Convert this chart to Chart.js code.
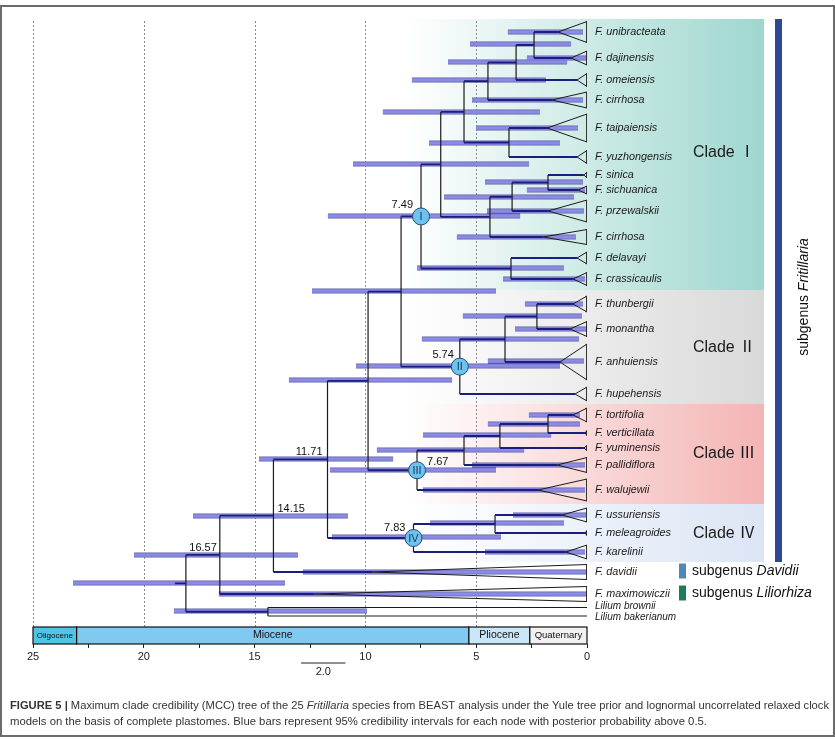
<!DOCTYPE html>
<html>
<head>
<meta charset="utf-8">
<script src="https://cdn.jsdelivr.net/npm/chart.js@4.4.1/dist/chart.umd.min.js"></script>
<style>
html, body { margin: 0; padding: 0; background: #fff; }
canvas { display: block; }
</style>
</head>
<body>
<canvas id="cvTree" width="835" height="739"></canvas>
<script>
const FONT = '"Liberation Sans", Arial, "Noto Sans CJK SC", sans-serif';

// tips, top to bottom (row = vertical position in tree rows, ages in Ma)
const tipNames = ["F. unibracteata", "F. dajinensis", "F. omeiensis", "F. cirrhosa", "F. taipaiensis", "F. yuzhongensis",
    "F. sinica", "F. sichuanica", "F. przewalskii", "F. cirrhosa", "F. delavayi", "F. crassicaulis",
    "F. thunbergii", "F. monantha", "F. anhuiensis", "F. hupehensis",
    "F. tortifolia", "F. verticillata", "F. yuminensis", "F. pallidiflora", "F. walujewii",
    "F. ussuriensis", "F. meleagroides", "F. karelinii",
    "F. davidii", "F. maximowiczii", "Lilium brownii", "Lilium bakerianum"];
const tipRows = [1.4, 4.0, 6.2, 8.2, 11.0, 13.9, 15.7, 17.2, 19.3, 21.9, 24.0, 26.1,
    28.6, 31.1, 34.4, 37.6, 39.7, 41.5, 43.0, 44.7, 47.2, 49.7, 51.5, 53.4, 55.4, 57.6, 58.95, 59.8];
const tipLabelRows = [1.4, 4.0, 6.2, 8.2, 11.0, 13.9, 15.7, 17.2, 19.3, 21.9, 24.0, 26.1,
    28.6, 31.1, 34.4, 37.6, 39.7, 41.5, 43.0, 44.7, 47.2, 49.7, 51.5, 53.4, 55.4, 57.6, 58.8, 59.95];
const tipCrownAges = [1.31, 0.72, 0.45, 1.58, 1.8, 0.45, 0.14, 0.4, 1.76, 1.99, 0.45, 0.63,
    0.63, 0.77, 1.22, 0.54, 0.63, 0.09, 0.14, 1.35, 2.21, 1.13, 0.09, 0.95, 9.7, 12.3, 0, 0];
const tipSpread = [1.05, 0.7, 0.65, 0.8, 1.4, 0.65, 0.3, 0.4, 1.1, 0.75, 0.6, 0.65,
    0.8, 0.75, 1.8, 0.7, 0.7, 0.25, 0.25, 0.75, 1.1, 0.7, 0.25, 0.7, 0.75, 0.75, 0, 0];

// internal nodes (children listed before parents)
const nodeNames = ["n1", "n2", "n3", "n4", "n5", "n6", "n7", "n8", "n9", "n10", "I",
    "n11", "n12", "II", "n13", "n14", "n15", "n16", "III", "n17", "n18", "IV",
    "n19", "n20", "n21", "lil", "root"];
const nodeAges = [2.39, 3.2, 4.47, 3.52, 5.55, 1.76, 3.38, 4.38, 6.6, 3.43, 7.49,
    2.26, 3.7, 5.74, 8.39, 1.76, 3.93, 5.55, 7.67, 9.88, 4.15, 7.83,
    11.71, 14.15, 16.57, 14.4, 18.1];
const nodeKids = [["t0", "t1"], ["n1", "t2"], ["n2", "t3"], ["t4", "t5"], ["n3", "n4"], ["t6", "t7"], ["n6", "t8"],
    ["n7", "t9"], ["n5", "n8"], ["t10", "t11"], ["n9", "n10"],
    ["t12", "t13"], ["n11", "t14"], ["n12", "t15"], ["I", "II"], ["t16", "t17"], ["n14", "t18"], ["n15", "t19"],
    ["n16", "t20"], ["n13", "III"], ["t21", "t22"], ["n18", "t23"],
    ["n17", "IV"], ["n19", "t24"], ["n20", "t25"], ["t26", "t27"], ["n21", "lil"]];
const rootStubAge = 18.6;
const circledNodes = ["I", "II", "III", "IV"];
const datedNodes = ["I", "II", "III", "IV", "n19", "n20", "n21"];

// 95% HPD bars
const hpdRows = [1.4, 2.6, 4.0, 4.4, 6.2, 8.2, 9.4, 11.0, 12.5, 14.6, 16.4, 17.2, 17.9, 19.3, 19.8, 21.9, 25.0, 26.1, 27.3,
    28.6, 29.8, 31.1, 32.1, 34.3, 34.8, 36.2,
    39.7, 40.6, 41.7, 43.2, 44.1, 44.7, 45.2, 47.2,
    49.7, 50.5, 51.9, 53.4, 49.8, 53.7, 55.4, 56.5, 57.6, 59.3];
const hpdOld = [3.57, 5.28, 2.71, 6.27, 7.9, 5.19, 9.21, 5.01, 7.13, 10.56, 4.6, 2.71, 6.45, 4.51, 11.69, 5.87, 7.67, 3.79, 12.41,
    2.8, 5.6, 3.25, 7.45, 4.47, 10.42, 13.45,
    2.62, 4.47, 7.4, 9.48, 14.8, 5.19, 11.6, 7.4,
    3.34, 7.08, 11.51, 4.6, 17.78, 20.44, 12.82, 23.19, 16.61, 18.64];
const hpdYoung = [0.18, 0.72, 0, 0.9, 1.85, 0.18, 2.12, 0.41, 1.22, 2.62, 0.18, 0.09, 0.59, 0.14, 3.02, 0.5, 1.04, 0.09, 4.11,
    0.18, 0.23, 0, 0.36, 0.14, 1.22, 6.09,
    0.32, 0.32, 1.62, 2.84, 8.75, 0.09, 4.11, 0.09,
    0.05, 1.04, 3.88, 0.09, 10.79, 13.04, 0, 13.63, 0, 9.93];

// clades
const cladeNames = ["Clade \u2160", "Clade \u2161", "Clade \u2162", "Clade \u2163"];
const cladeTop = [0.1, 27.2, 38.6, 48.6];
const cladeBottom = [27.2, 38.6, 48.6, 54.4];
const cladeLabelRows = [13.5, 33.0, 43.6, 51.6];
const cladeColors = ["#9ed7ce", "#d9d9d9", "#f4b4b4", "#dbe5f4"];
const cladePanelAge = 8.2;

// geological time scale
const epochNames = ["Oligocene", "Miocene", "Pliocene", "Quaternary"];
const epochStart = [25, 23.03, 5.33, 2.58];
const epochEnd = [23.03, 5.33, 2.58, 0];
const epochColors = ["#4cc5e6", "#80c9f0", "#c9e7f8", "#f1f1f1"];
const epochFontSizes = [8, 10.5, 10.5, 9.5];
const gridAges = [25, 20, 15, 10, 5];
const scaleBarAges = [12.9, 10.9];

// ---- tree layout ----
const rowOf = {};
const ageOf = {};
tipNames.forEach((n, i) => { rowOf["t" + i] = tipRows[i]; ageOf["t" + i] = tipCrownAges[i]; });
nodeNames.forEach((n, i) => {
    const kids = nodeKids[i];
    rowOf[n] = (rowOf[kids[0]] + rowOf[kids[kids.length - 1]]) / 2;
    ageOf[n] = nodeAges[i];
});

const gap = { x: null, y: null };
const hBranches = [], vBranches = [], thinBranches = [], triangles = [], hpdPts = [];
nodeNames.forEach((n, i) => {
    const kids = nodeKids[i];
    vBranches.push({ x: nodeAges[i], y: rowOf[kids[0]] }, { x: nodeAges[i], y: rowOf[kids[kids.length - 1]] }, gap);
    kids.forEach(k => {
        const isThinTip = k[0] === "t" && tipSpread[+k.slice(1)] === 0;
        const target = isThinTip ? thinBranches : hBranches;
        target.push({ x: nodeAges[i], y: rowOf[k] }, { x: ageOf[k], y: rowOf[k] }, gap);
    });
});
hBranches.push({ x: rootStubAge, y: rowOf.root }, { x: ageOf.root, y: rowOf.root }, gap);
tipNames.forEach((n, i) => {
    if (tipSpread[i] === 0) return;
    triangles.push({ x: tipCrownAges[i], y: tipRows[i] }, { x: 0, y: tipRows[i] - tipSpread[i] },
        { x: 0, y: tipRows[i] + tipSpread[i] }, { x: tipCrownAges[i], y: tipRows[i] }, gap);
});
hpdRows.forEach((r, i) => { hpdPts.push({ x: hpdOld[i], y: r }, { x: hpdYoung[i], y: r }, gap); });
const circlePts = circledNodes.map(n => ({ x: ageOf[n], y: rowOf[n] }));

const segSet = (data, color, width, order) => ({
    data: data, showLine: true, pointRadius: 0, borderColor: color, borderWidth: width,
    spanGaps: false, order: order, borderCapStyle: "butt", borderJoinStyle: "miter", fill: false
});

// ---- drawing helpers ----
const backgroundPlugin = {
    id: "cladeBackground",
    beforeDatasetsDraw(chart) {
        const { ctx, chartArea: a, scales: { x, y } } = chart;
        ctx.save();
        cladeNames.forEach((n, i) => {
            const x0 = x.getPixelForValue(cladePanelAge), x1 = a.right + 177;
            const y0 = y.getPixelForValue(cladeTop[i]), y1 = y.getPixelForValue(cladeBottom[i]);
            const g = ctx.createLinearGradient(x0, 0, x1, 0);
            g.addColorStop(0, "#ffffff");
            g.addColorStop(1, cladeColors[i]);
            ctx.fillStyle = g;
            ctx.fillRect(x0, y0, x1 - x0, y1 - y0);
        });
        ctx.strokeStyle = "#8a8a8a";
        ctx.lineWidth = 1;
        ctx.setLineDash([2, 2]);
        gridAges.forEach(v => {
            const px = Math.round(x.getPixelForValue(v)) + 0.5;
            ctx.beginPath();
            ctx.moveTo(px, y.getPixelForValue(0.3));
            ctx.lineTo(px, y.getPixelForValue(60.9));
            ctx.stroke();
        });
        ctx.restore();
    }
};

const drawCaption = (ctx) => {
    const line1 = [["bold", "FIGURE 5 | "], ["normal", "Maximum clade credibility (MCC) tree of the 25 "], ["italic", "Fritillaria"],
        ["normal", " species from BEAST analysis under the Yule tree prior and lognormal uncorrelated relaxed clock"]];
    const line2 = [["normal", "models on the basis of complete plastomes. Blue bars represent 95% credibility intervals for each node with posterior probability above 0.5."]];
    const setF = (st) => { ctx.font = (st === "bold" ? "bold " : st === "italic" ? "italic " : "") + "11.5px " + FONT; };
    const widthOf = (segs) => segs.reduce((s, sg) => { setF(sg[0]); return s + ctx.measureText(sg[1]).width; }, 0);
    [[line1, 709, 819], [line2, 725, 697]].forEach(([segs, yy, target]) => {
        const sx = target / widthOf(segs);
        ctx.save();
        ctx.translate(10, yy);
        ctx.scale(sx, 1);
        let cx = 0;
        segs.forEach(sg => {
            setF(sg[0]);
            ctx.fillStyle = "#333";
            ctx.textBaseline = "alphabetic";
            ctx.textAlign = "left";
            ctx.fillText(sg[1], cx, 0);
            cx += ctx.measureText(sg[1]).width;
        });
        ctx.restore();
    });
};

const overlayPlugin = {
    id: "treeOverlay",
    afterDatasetsDraw(chart) {
        const { ctx, chartArea: a, scales: { x, y } } = chart;
        ctx.save();
        // time scale bar
        const tTop = y.getPixelForValue(60.9), tBot = a.bottom;
        epochNames.forEach((n, i) => {
            const x0 = x.getPixelForValue(epochStart[i]), x1 = x.getPixelForValue(epochEnd[i]);
            ctx.fillStyle = epochColors[i];
            ctx.fillRect(x0, tTop, x1 - x0, tBot - tTop);
            ctx.strokeStyle = "#111";
            ctx.lineWidth = 1.2;
            ctx.strokeRect(x0, tTop, x1 - x0, tBot - tTop);
            ctx.fillStyle = "#111";
            ctx.font = epochFontSizes[i] + "px " + FONT;
            ctx.textAlign = "center";
            ctx.textBaseline = "middle";
            ctx.fillText(n, (x0 + x1) / 2, (tTop + tBot) / 2);
        });
        // scale bar
        ctx.strokeStyle = "#222";
        ctx.lineWidth = 1.2;
        ctx.beginPath();
        ctx.moveTo(x.getPixelForValue(scaleBarAges[0]), a.bottom + 19);
        ctx.lineTo(x.getPixelForValue(scaleBarAges[1]), a.bottom + 19);
        ctx.stroke();
        ctx.fillStyle = "#222";
        ctx.font = "11px " + FONT;
        ctx.textAlign = "center";
        ctx.textBaseline = "middle";
        ctx.fillText((scaleBarAges[0] - scaleBarAges[1]).toFixed(1),
            x.getPixelForValue((scaleBarAges[0] + scaleBarAges[1]) / 2), a.bottom + 28);

        // circle labels
        ctx.font = "11px " + FONT;
        ctx.fillStyle = "#1c3658";
        circledNodes.forEach(n => {
            ctx.fillText(n, x.getPixelForValue(ageOf[n]), y.getPixelForValue(rowOf[n]) + 0.5);
        });
        // node ages
        const ageLabelOffsets = { I: [-8, -11, "right"], II: [-6, -12, "right"], III: [10, -8, "left"], IV: [-8, -10, "right"],
            n19: [-5, -7, "right"], n20: [4, -7, "left"], n21: [-3, -7, "right"] };
        ctx.font = "11px " + FONT;
        ctx.fillStyle = "#111";
        datedNodes.forEach(n => {
            const o = ageLabelOffsets[n];
            ctx.textAlign = o[2];
            ctx.fillText(ageOf[n].toFixed(2), x.getPixelForValue(ageOf[n]) + o[0], y.getPixelForValue(rowOf[n]) + o[1]);
        });
        // tip labels
        ctx.textAlign = "left";
        ctx.fillStyle = "#1a1a1a";
        tipNames.forEach((n, i) => {
            ctx.font = (tipSpread[i] === 0 ? "italic 10px " : "italic 10.8px ") + FONT;
            ctx.fillText(n, a.right + 8, y.getPixelForValue(tipLabelRows[i]));
        });
        // clade labels
        ctx.font = "16px " + FONT;
        ctx.textAlign = "center";
        cladeNames.forEach((n, i) => {
            ctx.fillText(n, a.right + 137, y.getPixelForValue(cladeLabelRows[i]));
        });
        // subgenus Fritillaria
        ctx.fillStyle = "#2f4896";
        const yb0 = y.getPixelForValue(cladeTop[0]), yb1 = y.getPixelForValue(cladeBottom[3]);
        ctx.fillRect(a.right + 188, yb0, 7, yb1 - yb0);
        ctx.save();
        ctx.translate(a.right + 217, y.getPixelForValue(27.9));
        ctx.rotate(-Math.PI / 2);
        ctx.fillStyle = "#111";
        ctx.font = "14px " + FONT;
        const w1 = ctx.measureText("subgenus ").width;
        ctx.font = "italic 14px " + FONT;
        const w2 = ctx.measureText("Fritillaria").width;
        ctx.textAlign = "left";
        ctx.font = "14px " + FONT;
        ctx.fillText("subgenus ", -(w1 + w2) / 2, 0);
        ctx.font = "italic 14px " + FONT;
        ctx.fillText("Fritillaria", -(w1 + w2) / 2 + w1, 0);
        ctx.restore();
        // subgenus legend
        const legend = [["Davidii", "#4f87b5", 24], ["Liliorhiza", "#1b7c5c", 25]];
        legend.forEach(([name, col, tip]) => {
            const cy = y.getPixelForValue(tipRows[tip]) - 1;
            ctx.fillStyle = col;
            ctx.fillRect(a.right + 92, cy - 7.5, 7, 15);
            ctx.fillStyle = "#111";
            ctx.textAlign = "left";
            ctx.font = "14px " + FONT;
            ctx.fillText("subgenus ", a.right + 105, cy);
            const w = ctx.measureText("subgenus ").width;
            ctx.font = "italic 14px " + FONT;
            ctx.fillText(name, a.right + 105 + w, cy);
        });
        // caption and frame
        drawCaption(ctx);
        ctx.strokeStyle = "#6b6b6b";
        ctx.lineWidth = 2;
        ctx.strokeRect(1, 6, 833, 730);
        ctx.restore();
    }
};

const ctx = document.getElementById("cvTree").getContext("2d");
const treeChart = new Chart(ctx, {
    type: "scatter",
    data: {
        datasets: [
            { data: circlePts, pointRadius: 8.5, pointBackgroundColor: "#6cc3ef", pointBorderColor: "#2a4d78",
              pointBorderWidth: 1, showLine: false, order: 1 },
            segSet(hBranches, "#1b1e7e", 1.8, 5),
            segSet(thinBranches, "#1a1a1a", 1, 5),
            segSet(vBranches, "#1a1a1a", 1.2, 6),
            segSet(triangles, "#1a1a1a", 1, 7),
            segSet(hpdPts, "#8b8be6", 3.4, 8),
            segSet(hpdPts, "#5f5fa6", 5, 9)
        ]
    },
    options: {
        responsive: false,
        animation: false,
        devicePixelRatio: 1,
        layout: { padding: { left: 33, right: 248, top: 18, bottom: 75 } },
        plugins: { legend: { display: false }, tooltip: { enabled: false } },
        scales: {
            x: {
                type: "linear", reverse: true, min: 0, max: 25, position: "bottom",
                afterFit: (s) => { s.height = 20; },
                border: { display: false },
                grid: { drawOnChartArea: false, drawTicks: true, tickLength: 4, color: "#222" },
                ticks: {
                    stepSize: 2.5, autoSkip: false, maxRotation: 0, padding: 2, color: "#222",
                    font: { size: 11, family: FONT },
                    callback: (v) => (v % 5 === 0 ? String(v) : "")
                }
            },
            y: { type: "linear", reverse: true, min: 0, max: 62.6, display: false }
        }
    },
    plugins: [backgroundPlugin, overlayPlugin]
});
</script>
</body>
</html>
